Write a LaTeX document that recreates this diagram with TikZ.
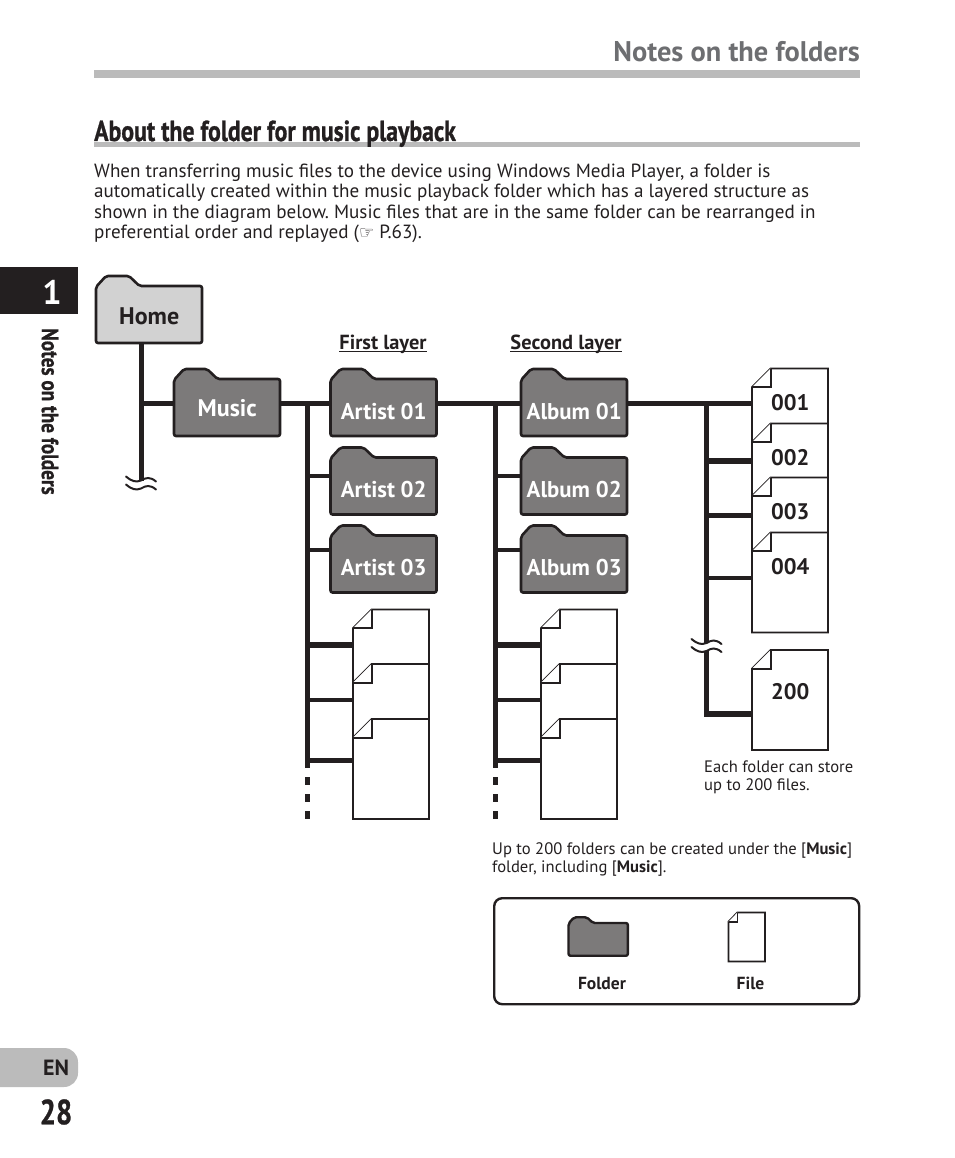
\documentclass[tikz,border=0pt]{standalone}
\usepackage{fontspec}
\usepackage{xcolor}
\setmainfont{PT Sans}
\newfontfamily\condfont[BoldFeatures={FakeStretch=0.82,FakeBold=0.8}]{PT Sans}
\newfontfamily\symfont{DejaVu Sans}
\definecolor{ink}{HTML}{231F20}
\definecolor{foldergrey}{HTML}{7C7A7A}
\definecolor{homegrey}{HTML}{D2D2D2}
\definecolor{rulegrey}{HTML}{BBBBBB}
\definecolor{headgrey}{HTML}{6D6E71}
\frenchspacing

\tikzset{
  folderline/.style={draw=ink, line width=2.6pt, rounded corners=2pt, line join=round},
  folderbox/.style={anchor=north west, inner sep=0pt, font=\fontsize{22.8}{24}\selectfont\bfseries, text=white},
  fileline/.style={draw=ink, fill=white, line width=1.8pt},
  filebox/.style={anchor=north west, inner sep=0pt, font=\fontsize{22.5}{24}\selectfont\bfseries, text=ink,
                  text height=0pt},
  trunk/.style={draw=ink, line width=5pt},
  branch/.style={draw=ink, line width=#1},
  branch/.default=5pt,
  bodytext/.style={anchor=north west, inner sep=0pt, align=left, text=ink, font=\fontsize{19.1}{20.2}\selectfont},
  smalltext/.style={anchor=north west, inner sep=0pt, align=left, text=ink, font=\fontsize{16.6}{18}\selectfont},
  layerlbl/.style={inner sep=0pt, text=ink, font=\fontsize{20.4}{22}\selectfont\bfseries},
  keylbl/.style={inner sep=0pt, text=ink, font=\fontsize{17.5}{18}\selectfont\bfseries},
  wave/.style={draw=ink, line width=2pt, line cap=round},
  breakmark/.pic={
    \fill[white] (-7,-2) rectangle (7,6);
    \draw[wave] (-15,-6) .. controls (-9,-1) and (-5,0) .. (0,-2) .. controls (5,-5) and (9,-6) .. (15,-1);
    \draw[wave] (-15,2) .. controls (-9,7) and (-5,8) .. (0,6) .. controls (5,3) and (9,2) .. (15,7);
  }
}

% folder: [fill]{name}{left}{body top}{text height}{label}{extra}
\newcommand{\foldernode}[7][foldergrey]{
  \filldraw[folderline, fill=#1] (#3,#4+1) -- (#3+10,#4-10) -- (#3+33,#4-10) -- (#3+43.5,#4)
    -- (#3+106,#4) -- (#3+106,#4+57) -- (#3,#4+57) -- cycle;
  \node[folderbox, minimum width=106, minimum height=57, text height=#5pt, text depth=0pt, #7] (#2) at (#3,#4) {#6};
}
% file: [text depth]{name}{left}{top}{label}
\newcommand{\filenode}[5][16pt]{
  \filldraw[fileline] (#3+18.6,#4) -- (#3+76,#4) -- (#3+76,#4+100) -- (#3,#4+100) -- (#3,#4+18.6) -- cycle;
  \draw[fileline] (#3,#4+18.6) -- (#3+18.6,#4+18.6) -- (#3+18.6,#4);
  \node[filebox, text depth=#1, minimum width=76, minimum height=100] (#2) at (#3,#4) {#5};
}

\begin{document}
\begin{tikzpicture}[x=1pt, y=-1pt]
\useasboundingbox (0,0) rectangle (954,1158);

% page furniture
\fill[ink] (0,267) rectangle (78,314);
\node[text=white, font=\fontsize{34}{34}\selectfont\bfseries] (chapnum) at (52,292) {1};
\node[rotate=-90, text=ink, inner sep=0pt, font=\fontsize{23.4}{24}\condfont\bfseries] (sidetitle) at (50,411.5) {Notes on the folders};
\fill[rulegrey, rounded corners=14pt] (-30,1048) rectangle (78,1087);
\node[text=ink, inner sep=0pt, font=\fontsize{22}{22}\selectfont\bfseries] (lang) at (56,1068) {EN};
\node[text=ink, inner sep=0pt, font=\fontsize{35}{35}\condfont\bfseries] (pagenum) at (56,1112) {28};

% headings
\node[anchor=base east, inner sep=0pt, text=headgrey, font=\fontsize{28.4}{30}\selectfont\bfseries] (pagehead) at (860,62) {Notes on the folders};
\fill[rulegrey] (94,70) rectangle (860,78);
\fill[rulegrey] (94,142) rectangle (860,147);
\node[anchor=base west, inner sep=0pt, text=ink, font=\fontsize{29}{30}\condfont\bfseries] (sechead) at (94,141) {About the folder for music playback};
\node[bodytext] (intro) at (94,164) {When transferring music files to the device using Windows Media Player, a folder is\\
automatically created within the music playback folder which has a layered structure as\\
shown in the diagram below. Music files that are in the same folder can be rearranged in\\
preferential order and replayed ({\symfont\fontsize{17}{17}\selectfont ☞} P.63).};

% layer captions
\node[layerlbl] (firstlayer) at (383,344) {First layer};
\node[layerlbl] (secondlayer) at (566,344) {Second layer};
\draw[ink, line width=1pt] ([yshift=-2.5pt]firstlayer.base west) -- ([yshift=-2.5pt]firstlayer.base east);
\draw[ink, line width=1pt] ([yshift=-2.5pt]secondlayer.base west) -- ([yshift=-2.5pt]secondlayer.base east);

% folders
\foldernode[homegrey]{home}{96}{286}{20}{Home}{text=ink, font=\fontsize{24}{24}\selectfont\bfseries}
\foldernode{music}{174}{379}{17}{Music}{font=\fontsize{24}{24}\selectfont\bfseries}
\foldernode{artist1}{330.5}{379}{23}{Artist 01}{}
\foldernode{artist2}{330.5}{457.5}{23}{Artist 02}{}
\foldernode{artist3}{330.5}{535.5}{23}{Artist 03}{}
\foldernode{album1}{521}{379}{23}{Album 01}{}
\foldernode{album2}{521}{457.5}{23}{Album 02}{}
\foldernode{album3}{521}{535.5}{23}{Album 03}{}

% files
\filenode{afile1}{353}{609.5}{}
\filenode{afile2}{353}{664}{}
\filenode{afile3}{353}{719}{}
\filenode{bfile1}{541}{609.5}{}
\filenode{bfile2}{541}{664}{}
\filenode{bfile3}{541}{719}{}
\filenode{cfile1}{752}{368.5}{001}
\filenode{cfile2}{752}{423.5}{002}
\filenode{cfile3}{752}{477.5}{003}
\filenode{cfile4}{752}{532.5}{004}
\filenode[2pt]{cfile5}{752}{650}{200}

% trunks
\coordinate (hometap) at (141,403);
\coordinate (homeend) at (141,484);
\coordinate (artisttap) at (307.5,403);
\coordinate (albumtap) at (495.5,403);
\coordinate (filetap) at (706.5,403);
\coordinate (artistend) at (307.5,768);
\coordinate (albumend) at (495.5,768);
\coordinate (fileend) at (706.5,716.5);

\draw[trunk] (home.south -| hometap) -- (homeend);
\draw[trunk] (hometap) -- (music.west |- hometap);
\draw[trunk] (music.east |- hometap) -- (artist1.west |- hometap);
\draw[trunk] (artist1.east |- hometap) -- (album1.west |- hometap);
\draw[trunk] (album1.east |- hometap) -- (cfile1.west |- hometap);
\draw[trunk] (artisttap) -- (artistend);
\draw[trunk] (albumtap) -- (albumend);
\draw[trunk] (filetap) -- (fileend);

% side branches
\foreach \y/\w in {476/4.5pt, 550/4.5pt}{
  \draw[branch=\w] (artisttap |- 0,\y) -- (artist1.west |- 0,\y);
  \draw[branch=\w] (albumtap |- 0,\y) -- (album1.west |- 0,\y);
}
\foreach \y/\w in {645/6pt, 700/4.5pt, 760/5pt}{
  \draw[branch=\w] (artisttap |- 0,\y) -- (afile1.west |- 0,\y);
  \draw[branch=\w] (albumtap |- 0,\y) -- (bfile1.west |- 0,\y);
}
\foreach \y/\w in {461/6pt, 515.5/4.5pt, 578/4.5pt, 714/6pt}{
  \draw[branch=\w] (filetap |- 0,\y) -- (cfile1.west |- 0,\y);
}

% dotted tails
\draw[trunk, dash pattern=on 8pt off 9pt] (307.5,777) -- (307.5,820);
\draw[trunk, dash pattern=on 8pt off 9pt] (495.5,777) -- (495.5,820);

% break marks
\pic at (141,482.5) {breakmark};
\pic at (706.5,645) {breakmark};

% notes
\node[smalltext] (filenote) at (704,761) {Each folder can store\\up to 200 files.};
\node[smalltext] (foldernote) at (492,842) {Up to 200 folders can be created under the [\textbf{Music}]\\folder, including [\textbf{Music}].};

% key
\node[draw=ink, line width=2.4pt, rounded corners=8pt, minimum width=365, minimum height=106, anchor=north west, inner sep=0pt] (keybox) at (493,897) {};
\begin{scope}[shift={(568.5,923)}, x=0.56pt, y=-0.575pt]
  \filldraw[folderline, line width=2.4pt, fill=foldergrey] (0,1) -- (10,-10) -- (33,-10) -- (43.5,0) -- (106,0) -- (106,57) -- (0,57) -- cycle;
\end{scope}
\node[inner sep=0pt, minimum width=59, minimum height=33, anchor=north west] (keyfolder) at (568.5,923) {};
\begin{scope}[shift={(728.5,912.5)}, x=0.48pt, y=-0.49pt]
  \filldraw[fileline] (18.6,0) -- (76,0) -- (76,100) -- (0,100) -- (0,18.6) -- cycle;
  \draw[fileline] (0,18.6) -- (18.6,18.6) -- (18.6,0);
\end{scope}
\node[inner sep=0pt, minimum width=36, minimum height=49, anchor=north west] (keyfile) at (728.5,912.5) {};
\node[keylbl] (keyfolderlbl) at (602,983.5) {Folder};
\node[keylbl] (keyfilelbl) at (750.5,983.5) {File};

\end{tikzpicture}
\end{document}
